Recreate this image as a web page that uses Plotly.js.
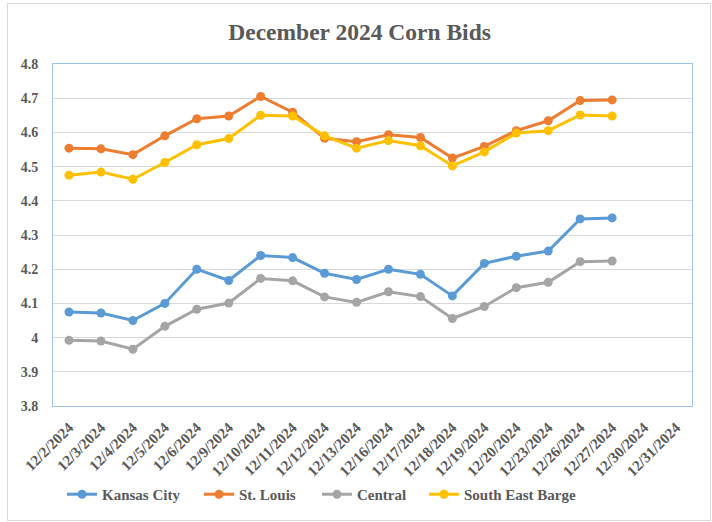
<!DOCTYPE html>
<html>
<head>
<meta charset="utf-8">
<script src="https://cdn.plot.ly/plotly-3.0.1.min.js"></script>
<style>
  html, body { margin: 0; padding: 0; background: #fff; }
  #chart { width: 712px; height: 522px; }
  #frame { position: absolute; left: 7px; top: 3px; width: 702px; height: 516px; border: 1px solid #d9d9d9; pointer-events: none; }
</style>
</head>
<body>
<div id="chart"></div>
<div id="frame"></div>
<script>
const dates = ["12/2/2024","12/3/2024","12/4/2024","12/5/2024","12/6/2024","12/9/2024","12/10/2024","12/11/2024","12/12/2024","12/13/2024","12/16/2024","12/17/2024","12/18/2024","12/19/2024","12/20/2024","12/23/2024","12/26/2024","12/27/2024","12/30/2024","12/31/2024"];
const kansasCity = [4.075,4.072,4.05,4.10,4.20,4.167,4.24,4.234,4.188,4.17,4.20,4.185,4.122,4.217,4.238,4.253,4.347,4.35,null,null];
const stLouis = [4.554,4.552,4.535,4.59,4.64,4.648,4.705,4.659,4.583,4.573,4.593,4.585,4.525,4.559,4.605,4.634,4.693,4.695,null,null];
const central = [3.992,3.99,3.966,4.033,4.083,4.101,4.173,4.166,4.119,4.103,4.134,4.12,4.056,4.091,4.146,4.162,4.222,4.224,null,null];
const seBarge = [4.475,4.484,4.463,4.512,4.564,4.582,4.65,4.648,4.59,4.554,4.576,4.561,4.502,4.543,4.598,4.605,4.651,4.648,null,null];

const seriesNames = ["Kansas City","St. Louis","Central","South East Barge"];
const seriesValues = [kansasCity, stLouis, central, seBarge];
const seriesColors = ["#5b9bd5","#ed7d31","#a5a5a5","#ffc000"];
const yTickVals = [3.8,3.9,4.0,4.1,4.2,4.3,4.4,4.5,4.6,4.7,4.8];
const yTickText = ["3.8","3.9","4","4.1","4.2","4.3","4.4","4.5","4.6","4.7","4.8"];

const legendIds = ["legend","legend2","legend3","legend4"];
const legendX = [0.0141, 0.2285, 0.4131, 0.5806];

const traces = seriesNames.map((n, i) => ({
  type: "scatter",
  mode: "lines+markers",
  name: "<b>" + n + "</b>",
  x: dates,
  y: seriesValues[i],
  line: { color: seriesColors[i], width: 3 },
  marker: { color: seriesColors[i], size: 9 },
  connectgaps: false,
  legend: legendIds[i]
}));

const font = { family: "Liberation Serif, Times New Roman, serif", color: "#595959" };

const layout = {
  width: 712, height: 522,
  font: font,
  margin: { l: 53, r: 20, t: 64, b: 115 },
  paper_bgcolor: "#fff", plot_bgcolor: "#fff",
  title: { text: "<b>December 2024 Corn Bids</b>", x: 0.505, xanchor: "center", y: 0.94, yanchor: "middle",
           font: Object.assign({}, font, { size: 23.5 }) },
  showlegend: true,
  xaxis: {
    type: "category", categoryarray: dates, range: [-0.5, 19.5],
    tickmode: "array", tickvals: dates, ticktext: dates.map(d => "<b>" + d + "</b>"),
    tickangle: -45, tickfont: Object.assign({}, font, { size: 15 }),
    showgrid: false, showline: true, mirror: true, linecolor: "#9dc3e6", linewidth: 1,
    ticks: "", zeroline: false, fixedrange: true, ticklabelstandoff: 6
  },
  yaxis: {
    range: [3.8, 4.8],
    tickfont: Object.assign({}, font, { size: 14 }),
    tickvals: yTickVals, ticktext: yTickText.map(t => "<b>" + t + "</b>"),
    showgrid: true, gridcolor: "#d9d9d9", gridwidth: 1,
    showline: true, mirror: true, linecolor: "#9dc3e6", linewidth: 1,
    zeroline: false, ticks: "", ticklabelstandoff: 11
  }
};
legendIds.forEach((id, i) => {
  layout[id] = { orientation: "h", x: legendX[i], xanchor: "left", y: -0.255, yanchor: "middle",
                 font: Object.assign({}, font, { size: 15 }), itemwidth: 30,
                 bgcolor: "rgba(0,0,0,0)" };
});

Plotly.newPlot("chart", traces, layout, { displayModeBar: false, staticPlot: true });
</script>
</body>
</html>
